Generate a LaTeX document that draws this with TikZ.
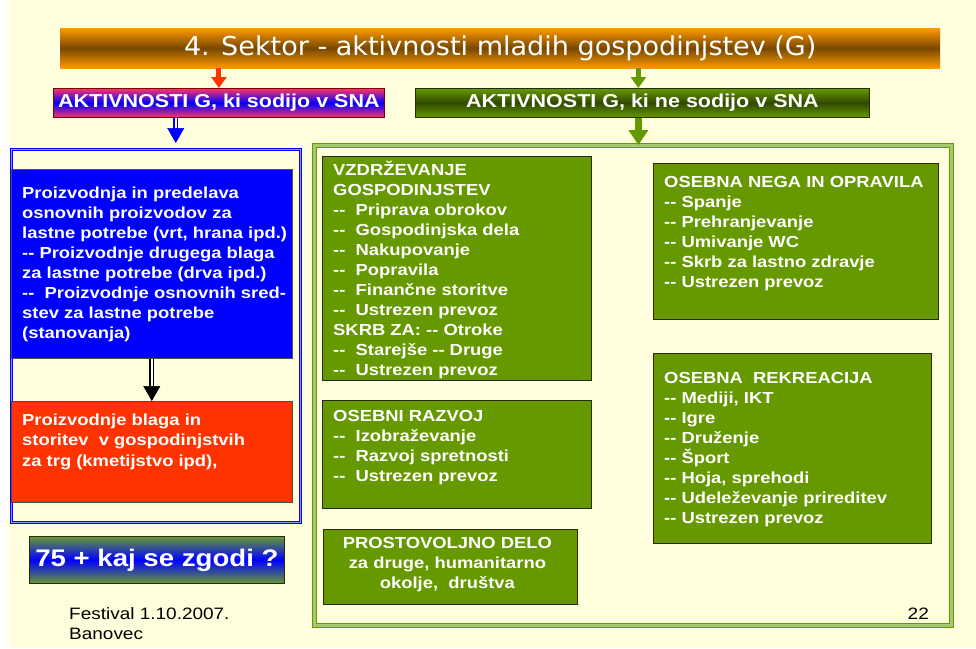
\documentclass[tikz,border=0pt]{standalone}
\usepackage{fontspec}
\setmainfont{Liberation Sans}[FakeStretch=1.15]
\newfontfamily\titlefont{DejaVu Sans}[FakeStretch=1.04]
\usetikzlibrary{arrows.meta,calc}
\definecolor{bgy}{RGB}{255,255,221}
\definecolor{gfill}{RGB}{102,153,0}
\definecolor{gdark}{RGB}{48,74,0}
\definecolor{gborder}{RGB}{40,45,0}
\definecolor{orng}{RGB}{255,153,0}
\definecolor{brwn}{RGB}{120,72,0}
\definecolor{redd}{RGB}{255,51,0}
\definecolor{pinkr}{RGB}{255,51,102}
\definecolor{darkr}{RGB}{120,0,0}
\definecolor{lightg}{RGB}{165,200,110}
\definecolor{lblue}{RGB}{150,150,255}
\definecolor{gsf}{RGB}{102,153,51}
\newcommand{\dd}{-{}-}
\begin{document}
\begin{tikzpicture}[x=1pt,y=-1pt,
  gbox/.style={draw=gborder, line width=0.8pt, fill=gfill, inner sep=0pt, anchor=north west},
  btxt/.style={font=\fontsize{16}{20}\selectfont\bfseries, text=white, inner sep=0pt, anchor=base west},
  ctxt/.style={font=\fontsize{16}{20}\selectfont\bfseries, text=white, inner sep=0pt, anchor=base},
  frame/.style={inner sep=0pt, anchor=north west},
  dshaft/.style={line width=1.4pt, double=white, double distance=2pt}
]
\useasboundingbox (0,0) rectangle (976,648);
\fill[bgy] (0,0) rectangle (976,648);
\fill[white] (0,0) rectangle (9,648);

% title
\node[frame, shade, top color=orng, bottom color=orng, middle color=brwn,
      minimum width=880pt, minimum height=40pt] (title) at (60,28) {};
\node[inner sep=0pt, text=white, font=\titlefont\fontsize{26}{28}\selectfont] (titlet) at (title.center)
  {4. Sektor - aktivnosti mladih gospodinjstev (G)};

% headers
\node[frame, shade, top color=pinkr, bottom color=pinkr, middle color=blue, draw=darkr, line width=0.8pt,
      minimum width=331pt, minimum height=29pt] (lh) at (53,88) {};
\node[inner sep=0pt, text=white, font=\fontsize{18.7}{20}\selectfont\bfseries] (lht) at (lh.center)
  {AKTIVNOSTI G, ki sodijo v SNA};
\node[frame, shade, top color=gfill, bottom color=gfill, middle color=gdark, draw=gborder, line width=0.8pt,
      minimum width=454pt, minimum height=29pt] (rh) at (415,88) {};
\node[inner sep=0pt, text=white, font=\fontsize{18.7}{20}\selectfont\bfseries] (rht) at (rh.center)
  {AKTIVNOSTI G, ki ne sodijo v SNA};

% frames
\node[frame, draw=blue, line width=1pt, double=lblue, double distance=1.5pt,
      minimum width=289pt, minimum height=373pt] (lfr) at (11,149) {};
\node[frame, draw=gfill, line width=1.2pt, double=lightg, double distance=2.5pt,
      minimum width=637pt, minimum height=480pt] (rfr) at (314,145) {};

% top arrows
\draw[redd, line width=5pt, -{Triangle[length=11pt,width=15pt]}] (lh.north |- title.south) -- (lh.north);
\draw[gfill, line width=5pt, -{Triangle[length=11pt,width=15pt]}] ([xshift=-4pt]rh.north |- title.south) -- ([xshift=-4pt]rh.north);
\draw[gfill, line width=7pt, -{Triangle[length=15pt,width=19pt]}] ([xshift=-4pt]rh.south) -- ([xshift=-4pt]rh.south |- rfr.north);

% blue arrow (double shaft)
\coordinate (bs) at ($(lh.south west)!0.37!(lh.south east)$);
\coordinate (be) at ($(bs |- lfr.north)+(0,-6)$);
\draw[blue, dshaft] (bs) -- ($(be)+(0,-14)$);
\draw[blue, line width=0.5pt, -{Triangle[length=15pt,width=17pt]}] ($(be)+(0,-14.5)$) -- (be);

% left boxes
\node[frame, fill=blue, draw=black!70, line width=0.6pt, minimum width=281pt, minimum height=189pt] (bb) at (11,169) {};
\node[inner sep=0pt, anchor=base west, text=black!80, font=\fontsize{6}{6}\selectfont\bfseries] (bbd) at (21,174) {\dd};
\foreach \t [count=\i from 0] in {Proizvodnja in predelava, osnovnih proizvodov za,
  {lastne potrebe (vrt, hrana ipd.)}, {\dd\ Proizvodnje drugega blaga}, za lastne potrebe (drva ipd.),
  {\dd\ \ Proizvodnje osnovnih sred-}, stev za lastne potrebe, (stanovanja)}
  \node[btxt] (bbt\i) at ($(bb.north west)+(11,29+20*\i)$) {\t};

\node[frame, fill=redd, draw=black!70, line width=0.6pt, minimum width=281pt, minimum height=101pt] (rb) at (11,401) {};
\node[btxt] (rbt0) at ($(rb.north west)+(11,24)$) {Proizvodnje blaga in};
\node[btxt] (rbt1) at ($(rb.north west)+(11,44)$) {storitev\ \ v gospodinjstvih};
\node[btxt] (rbt2) at ($(rb.north west)+(11,65)$) {za trg (kmetijstvo ipd),};

% black arrow
\coordinate (ks) at (bb.south);
\coordinate (ke) at (rb.north);
\draw[black, dshaft] (ks) -- ($(ke)+(0,-15)$);
\draw[black, line width=0.5pt, -{Triangle[length=15pt,width=17pt]}] ($(ke)+(0,-15.5)$) -- (ke);

% 75 box
\node[frame, shade, top color=gsf, bottom color=gsf, middle color=blue, draw=gborder, line width=0.8pt,
      minimum width=255pt, minimum height=47pt] (k75) at (29,536) {};
\node[inner sep=0pt, text=white, font=\fontsize{24}{26}\selectfont\bfseries] (k75t) at (k75.center)
  {75 + kaj se zgodi ?};

% green boxes
\node[gbox, minimum width=269pt, minimum height=224pt] (vz) at (322,156) {};
\foreach \t [count=\i from 0] in {VZDRŽEVANJE, GOSPODINJSTEV, {\dd\ \ Priprava obrokov},
  {\dd\ \ Gospodinjska dela}, {\dd\ \ Nakupovanje}, {\dd\ \ Popravila}, {\dd\ \ Finančne storitve},
  {\dd\ \ Ustrezen prevoz}, {SKRB ZA: \dd\ Otroke}, {\dd\ \ Starejše \dd\ Druge}, {\dd\ \ Ustrezen prevoz}}
  \node[btxt] (vzt\i) at ($(vz.north west)+(11,19+20*\i)$) {\t};

\node[gbox, minimum width=269pt, minimum height=108pt] (or) at (322,400) {};
\foreach \t [count=\i from 0] in {OSEBNI RAZVOJ, {\dd\ \ Izobraževanje}, {\dd\ \ Razvoj spretnosti}, {\dd\ \ Ustrezen prevoz}}
  \node[btxt] (ort\i) at ($(or.north west)+(11,21+20*\i)$) {\t};

\node[gbox, minimum width=254pt, minimum height=75pt] (pd) at (323,529) {};
\node[ctxt] (pdt0) at ($(pd.north)+(-3,19)$) {PROSTOVOLJNO DELO};
\node[ctxt] (pdt1) at ($(pd.north)+(-3,39)$) {za druge, humanitarno};
\node[ctxt] (pdt2) at ($(pd.north)+(-3,59)$) {okolje,\ \ društva};

\node[gbox, minimum width=285pt, minimum height=156pt] (on) at (653,163) {};
\foreach \t [count=\i from 0] in {OSEBNA NEGA IN OPRAVILA, {\dd\ Spanje}, {\dd\ Prehranjevanje},
  {\dd\ Umivanje WC}, {\dd\ Skrb za lastno zdravje}, {\dd\ Ustrezen prevoz}}
  \node[btxt] (ont\i) at ($(on.north west)+(11,24+20*\i)$) {\t};

\node[gbox, minimum width=278pt, minimum height=190pt] (rk) at (653,353) {};
\foreach \t [count=\i from 0] in {OSEBNA\ \ REKREACIJA, {\dd\ Mediji, IKT}, {\dd\ Igre}, {\dd\ Druženje},
  {\dd\ Šport}, {\dd\ Hoja, sprehodi}, {\dd\ Udeleževanje prireditev}, {\dd\ Ustrezen prevoz}}
  \node[btxt] (rkt\i) at ($(rk.north west)+(11,30+20*\i)$) {\t};

% footer
\node[inner sep=0pt, anchor=base west, font=\fontsize{16.5}{20}\selectfont] (fest) at (69,619) {Festival 1.10.2007.};
\node[inner sep=0pt, anchor=base west, font=\fontsize{16.5}{20}\selectfont] (ban) at (69,639) {Banovec};
\node[inner sep=0pt, anchor=base east, font=\fontsize{16.5}{20}\selectfont] (pg) at (929,619) {22};
\end{tikzpicture}
\end{document}
